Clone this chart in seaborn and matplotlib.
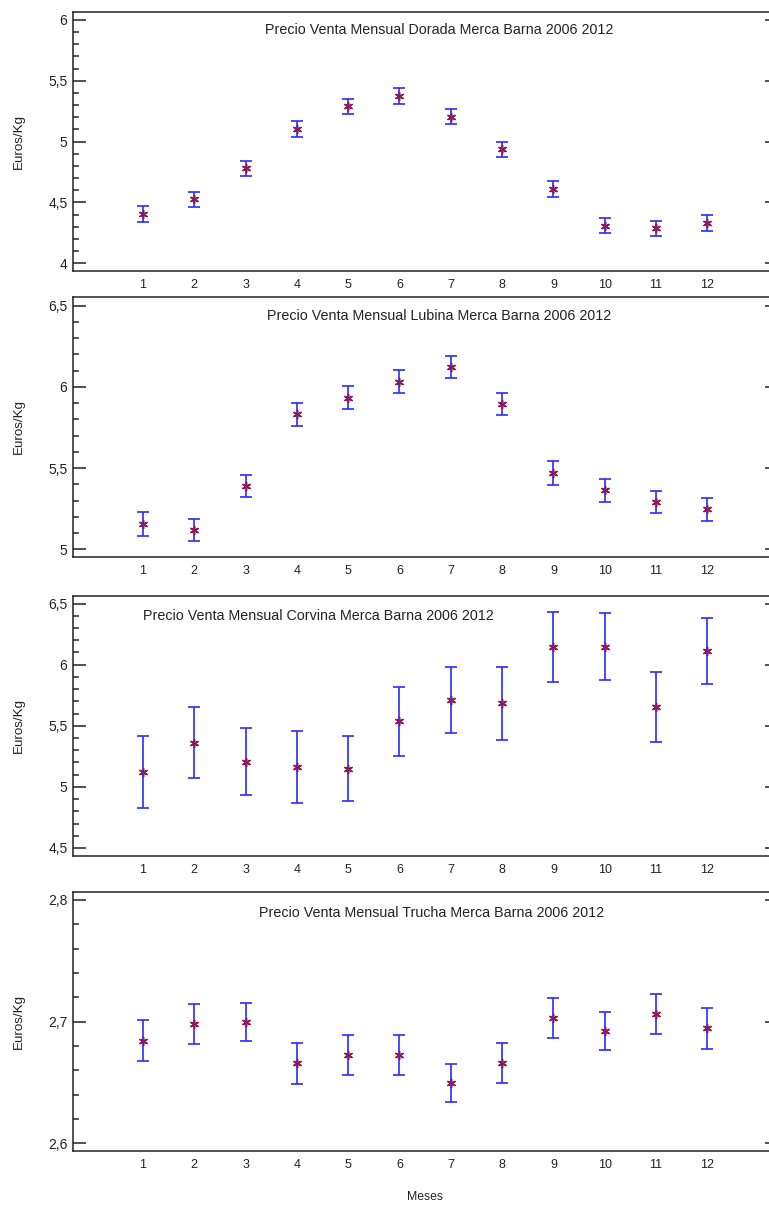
import numpy as np
import pandas as pd
import seaborn as sns
import matplotlib.pyplot as plt
from matplotlib.ticker import MultipleLocator, FuncFormatter

# Months
meses = list(range(1, 13))

# Dorada: monthly mean price and half-width of interval
dorada = [4.403, 4.526, 4.781, 5.107, 5.290, 5.375, 5.206, 4.937, 4.611, 4.309, 4.288, 4.329]
dorada_err = [0.067, 0.063, 0.060, 0.065, 0.062, 0.063, 0.062, 0.063, 0.067, 0.063, 0.063, 0.065]

# Lubina
lubina = [5.156, 5.119, 5.390, 5.832, 5.932, 6.033, 6.123, 5.895, 5.470, 5.363, 5.290, 5.246]
lubina_err = [0.072, 0.070, 0.069, 0.072, 0.071, 0.070, 0.067, 0.069, 0.072, 0.070, 0.069, 0.072]

# Corvina
corvina = [5.121, 5.362, 5.206, 5.162, 5.149, 5.536, 5.710, 5.686, 6.147, 6.147, 5.653, 6.111]
corvina_err = [0.298, 0.291, 0.273, 0.294, 0.265, 0.280, 0.270, 0.299, 0.286, 0.275, 0.287, 0.268]

# Trucha
trucha = [2.6844, 2.6979, 2.6998, 2.6658, 2.6724, 2.6724, 2.6496, 2.6658, 2.7030, 2.6924, 2.7063, 2.6945]
trucha_err = [0.0168, 0.0165, 0.0158, 0.0167, 0.0164, 0.0164, 0.0159, 0.0164, 0.0165, 0.0159, 0.0165, 0.0171]

titulos = ['Precio Venta Mensual Dorada Merca Barna 2006 2012',
           'Precio Venta Mensual Lubina Merca Barna 2006 2012',
           'Precio Venta Mensual Corvina Merca Barna 2006 2012',
           'Precio Venta Mensual Trucha Merca Barna 2006 2012']

sns.set_style('white')
plt.rcParams['font.family'] = ['Liberation Sans', 'DejaVu Sans']

fig = plt.figure(figsize=(7.69, 12.06), dpi=100)

# panel layout (fig fractions) and y settings
paneles = [
    (dorada, dorada_err, (0.7753, 0.2148), (3.937, 6.066), 0.5, 0.1, (0.519, 0.930)),
    (lubina, lubina_err, (0.5384, 0.2153), (4.954, 6.554), 0.5, 0.1, (0.519, 0.927)),
    (corvina, corvina_err, (0.2905, 0.2156), (4.437, 6.565), 0.5, 0.1, (0.348, 0.923)),
    (trucha, trucha_err, (0.0456, 0.2145), (2.5937, 2.8063), 0.1, 0.02, (0.5085, 0.921)),
]

coma = FuncFormatter(lambda v, p: ('%g' % round(v, 3)).replace('.', ','))

for i, (vals, errs, (b, h), ylim, mayor, menor, tpos) in enumerate(paneles):
    ax = fig.add_axes([0.0949, b, 0.9168, h])
    df = pd.DataFrame({'mes': meses, 'precio': vals, 'err': errs})

    ax.errorbar(df['mes'], df['precio'], yerr=df['err'], fmt='none',
                ecolor='#2b2bff', elinewidth=1.2, capsize=4.5, capthick=1.2, zorder=2)
    sns.scatterplot(data=df, x='mes', y='precio', ax=ax, marker=(6, 2, 0),
                    s=34, color='#8b1a5a', linewidth=1.1, zorder=3, legend=False)

    ax.set_xlim(-0.3645, 13.378)
    ax.set_ylim(*ylim)
    ax.set_xticks(meses)
    ax.yaxis.set_major_locator(MultipleLocator(mayor))
    ax.yaxis.set_minor_locator(MultipleLocator(menor))
    ax.yaxis.set_major_formatter(coma)

    ax.tick_params(axis='x', length=0, pad=6, labelsize=9, colors='#222222')
    ax.tick_params(axis='y', which='major', direction='in', length=9.5, width=1.1,
                   right=True, left=True, labelsize=10, colors='#222222', pad=4)
    ax.tick_params(axis='y', which='minor', direction='in', length=4.5, width=1.1,
                   left=True, right=False)
    for s in ax.spines.values():
        s.set_color('#222222')
        s.set_linewidth(1.1)

    ax.set_xlabel('')
    ax.set_ylabel('Euros/Kg', fontsize=9.6, color='#222222')
    ax.yaxis.set_label_coords(-0.068, 0.5)
    ax.text(tpos[0], tpos[1], titulos[i], transform=ax.transAxes, ha='center',
            va='center', fontsize=10.3, color='#222222')

    if i == 3:
        ax.set_xlabel('Meses', fontsize=8.8, color='#222222')
        ax.xaxis.set_label_coords(0.5, -0.155)

fig.savefig('out.png', dpi=100)
